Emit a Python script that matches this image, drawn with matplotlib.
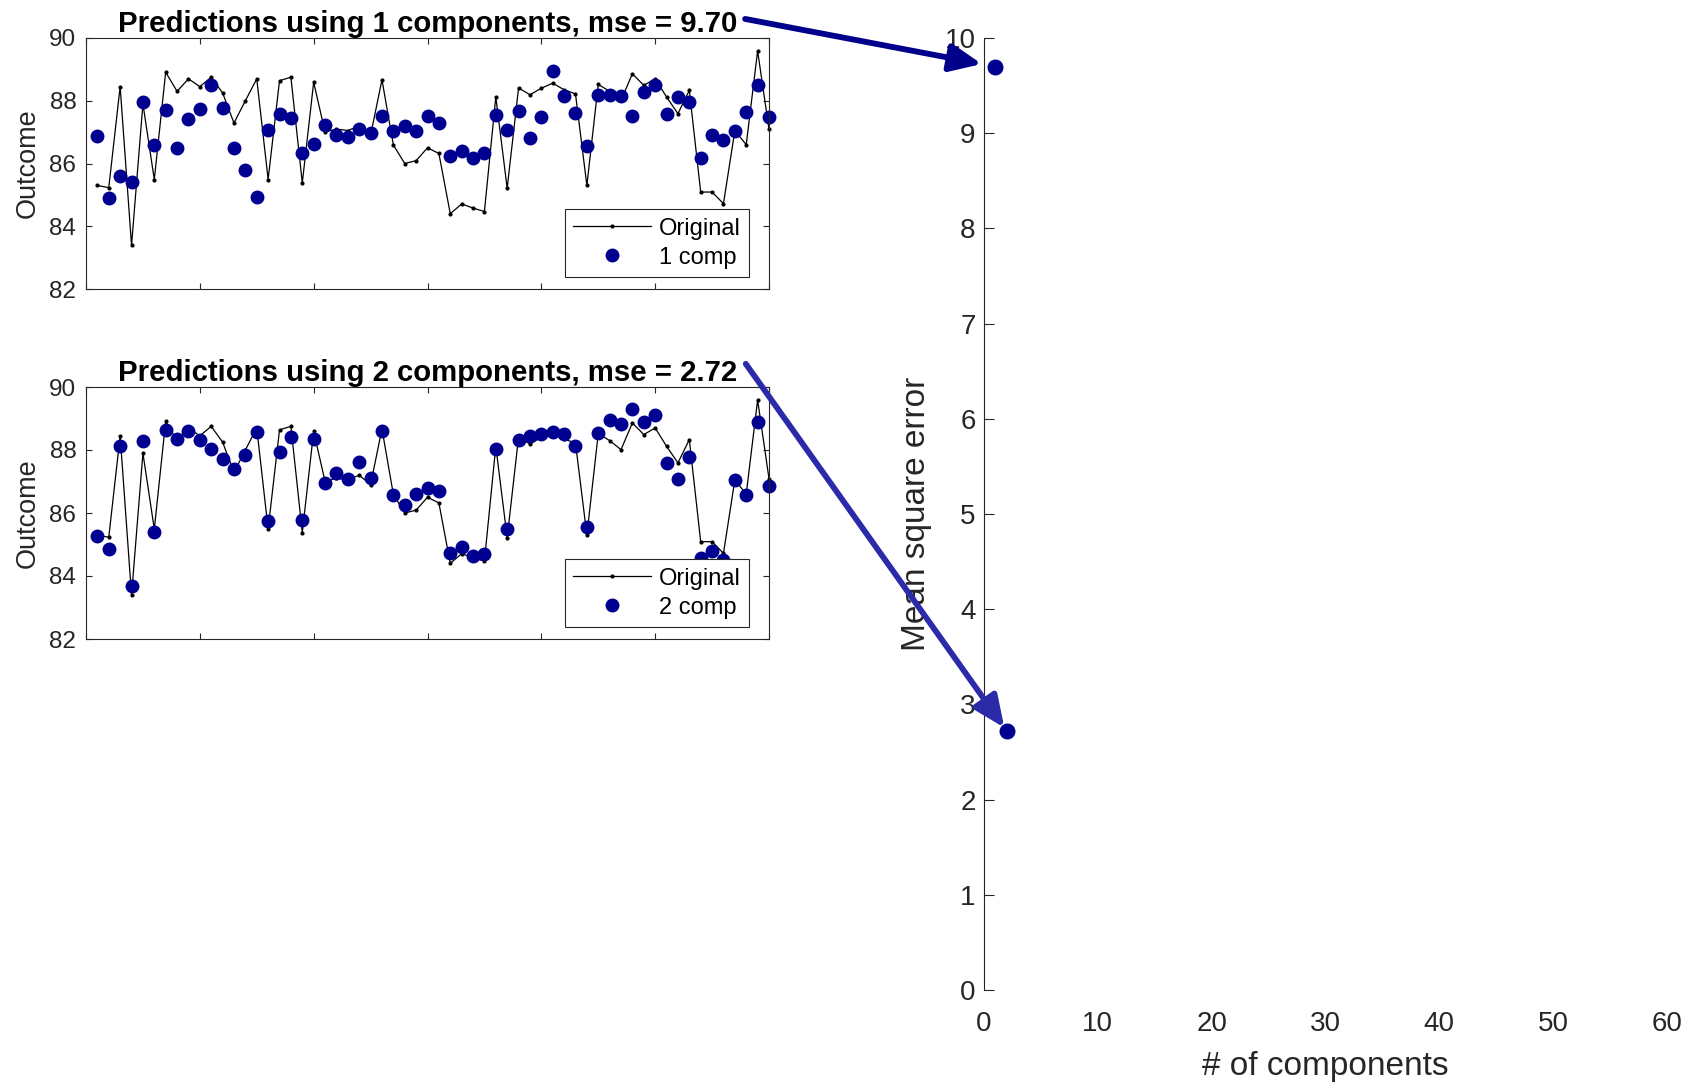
import matplotlib
matplotlib.use('Agg')
import matplotlib.pyplot as plt
from matplotlib.patches import ConnectionPatch

plt.rcParams['font.family'] = ['Liberation Sans', 'DejaVu Sans']

# --- data ---
obs_idx = list(range(1, 61))

original = [85.30, 85.23, 88.45, 83.39, 87.90, 85.49, 88.91, 88.30, 88.70, 88.45,
            88.75, 88.25, 87.29, 88.00, 88.70, 85.49, 88.64, 88.75, 85.38, 88.59,
            87.00, 87.10, 87.05, 87.20, 86.90, 88.67, 86.59, 86.00, 86.09, 86.50,
            86.32, 84.40, 84.71, 84.58, 84.47, 88.12, 85.21, 88.41, 88.19, 88.40,
            88.56, 88.35, 88.22, 85.30, 88.52, 88.30, 88.01, 88.86, 88.49, 88.70,
            88.12, 87.59, 88.33, 85.09, 85.09, 84.72, 87.05, 86.60, 89.59, 87.09]

pred_1comp = [86.89, 84.90, 85.60, 85.40, 87.96, 86.59, 87.71, 86.49, 87.43, 87.75,
              88.49, 87.77, 86.49, 85.79, 84.92, 87.06, 87.57, 87.46, 86.34, 86.62,
              87.24, 86.92, 86.85, 87.09, 86.98, 87.51, 87.03, 87.20, 87.03, 87.52,
              87.29, 86.24, 86.41, 86.19, 86.32, 87.54, 87.06, 87.67, 86.80, 87.48,
              88.96, 88.15, 87.61, 86.56, 88.17, 88.17, 88.15, 87.50, 88.27, 88.49,
              87.57, 88.12, 87.96, 86.19, 86.92, 86.74, 87.04, 87.64, 88.49, 87.48]

pred_2comp = [85.28, 84.87, 88.12, 83.67, 88.30, 85.40, 88.65, 88.35, 88.59, 88.33,
              88.03, 87.71, 87.40, 87.85, 88.56, 85.74, 87.93, 88.40, 85.77, 88.35,
              86.94, 87.27, 87.09, 87.62, 87.10, 88.59, 86.56, 86.26, 86.60, 86.79,
              86.69, 84.73, 84.92, 84.65, 84.71, 88.04, 85.49, 88.31, 88.43, 88.52,
              88.56, 88.51, 88.14, 85.56, 88.54, 88.96, 88.83, 89.30, 88.89, 89.12,
              87.59, 87.08, 87.77, 84.57, 84.78, 84.50, 87.06, 86.58, 88.89, 86.85]

n_comp = [1, 2]
mse_vals = [9.70, 2.72]

preds = [pred_1comp, pred_2comp]
pred_labels = ['1 comp', '2 comp']

# --- style ---
axis_col = '#262626'
dot_col = '#000090'
arrow_cols = ['#00008B', '#2B2BAA']

W, H = 1704, 1088
fig = plt.figure(figsize=(W / 100, H / 100), dpi=100)

def frac(x0, y0, x1, y1):
    # pixel box -> figure fraction [left, bottom, width, height]
    return [x0 / W, 1 - y1 / H, (x1 - x0) / W, (y1 - y0) / H]

left_axes = [fig.add_axes(frac(86, 38, 769, 289)),
             fig.add_axes(frac(86, 387, 769, 639))]
ax_mse = fig.add_axes(frac(984, 38, 1667, 990))

for k, ax in enumerate(left_axes):
    ax.plot(obs_idx, original, '.-', color='k', lw=0.9, ms=4, label='Original', clip_on=False)
    ax.plot(obs_idx, preds[k], 'o', color=dot_col, ms=9, ls='none',
            label=pred_labels[k], clip_on=False)
    ax.set_xlim(0, 60)
    ax.set_ylim(82, 90)
    ax.set_xticks(range(0, 61, 10))
    ax.set_xticklabels([])
    ax.set_yticks(range(82, 91, 2))
    ax.tick_params(direction='in', top=True, right=True, length=4.5, width=0.8,
                   color=axis_col, labelcolor=axis_col, labelsize=17.5, pad=7)
    for sp in ax.spines.values():
        sp.set_color(axis_col)
        sp.set_linewidth(0.8)
    ax.set_ylabel('Outcome', fontsize=19.5, color=axis_col, labelpad=6)
    ax.set_title('Predictions using %d components, mse = %.2f' % (n_comp[k], mse_vals[k]),
                 fontsize=21.2, fontweight='bold', pad=3)
    leg = ax.legend(loc='lower right', bbox_to_anchor=(0.971, 0.048), borderaxespad=0,
                    fontsize=17, fancybox=False, framealpha=1, edgecolor=axis_col,
                    handlelength=3.3, handletextpad=0.35, labelspacing=0.3,
                    borderpad=0.35)
    leg.get_frame().set_linewidth(0.8)

ax_mse.plot(n_comp, mse_vals, 'o', color=dot_col, ms=10.5, ls='none')
ax_mse.set_xlim(0, 60)
ax_mse.set_ylim(0, 10)
ax_mse.set_xticks(range(0, 61, 10))
ax_mse.set_yticks(range(0, 11))
for side in ['top', 'right', 'bottom']:
    ax_mse.spines[side].set_visible(False)
ax_mse.spines['left'].set_color(axis_col)
ax_mse.spines['left'].set_linewidth(0.8)
ax_mse.tick_params(axis='y', direction='in', length=7, width=0.8, color=axis_col,
                   labelcolor=axis_col, labelsize=20, pad=6)
ax_mse.tick_params(axis='x', length=0, labelcolor=axis_col, labelsize=20, pad=15)
ax_mse.set_xlabel('# of components', fontsize=24, color=axis_col, labelpad=10)
ax_mse.set_ylabel('Mean square error', fontsize=24, color=axis_col, labelpad=9)

# arrows from the subplot titles to the matching mse points
tails = [(0.965, 1.076), (0.966, 1.092)]
shrinks = [10, 3]
for k, ax in enumerate(left_axes):
    con = ConnectionPatch(xyA=tails[k], coordsA=ax.transAxes,
                          xyB=(n_comp[k], mse_vals[k]), coordsB=ax_mse.transData,
                          arrowstyle='-|>,head_length=0.95,head_width=0.42',
                          mutation_scale=20, lw=4.2, color=arrow_cols[k],
                          shrinkA=0, shrinkB=shrinks[k], clip_on=False, zorder=10)
    fig.add_artist(con)

fig.savefig('out.png', dpi=100)
